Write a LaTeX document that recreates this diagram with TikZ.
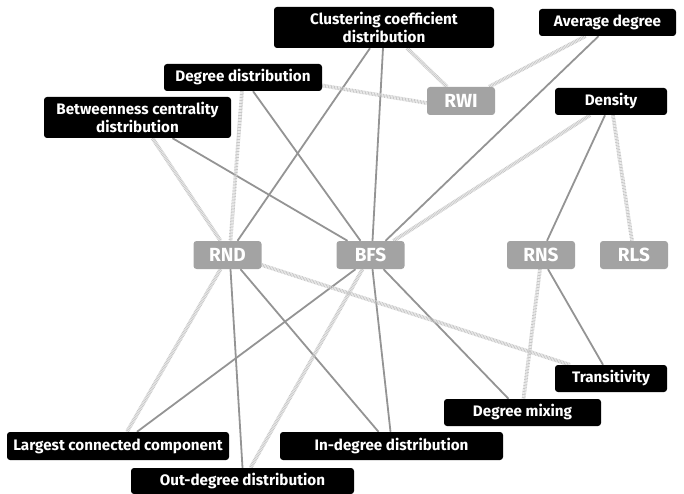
\documentclass[tikz,border=0pt]{standalone}
\usepackage{fontspec}
\setmainfont{Fira Sans}
\usepackage{tikz}
\usetikzlibrary{backgrounds}

\begin{document}
\begin{tikzpicture}[x=1pt, y=-1pt,
	measure/.style={fill=black, text=white, rounded corners=3pt, inner sep=0pt, minimum height=27pt, align=center, font=\bfseries\fontsize{15.2}{18}\selectfont},
	method/.style={fill=black!36, text=white, rounded corners=3pt, inner sep=0pt, minimum width=68pt, minimum height=28pt, font=\bfseries\fontsize{19}{21}\selectfont},
	strong/.style={draw=black!42, line width=1.8pt},
	weak/.style={draw=black!22, line width=3.8pt, dash pattern=on 0.8pt off 0.7pt}]
			\useasboundingbox (0,0) rectangle (684,494);
			% measures
			\node[measure, minimum width=220pt, minimum height=41pt] (clu) at (384,27.5) {Clustering coefficient\\distribution};
			\node[measure, minimum width=137pt] (avg) at (607.5,22.5) {Average degree};
			\node[measure, minimum width=158pt] (deg) at (243,77.5) {Degree distribution};
			\node[measure, minimum width=187pt, minimum height=41pt] (bet) at (137.5,117.5) {Betweenness centrality\\distribution};
			\node[measure, minimum width=112pt] (den) at (611,101.5) {Density};
			\node[measure, minimum width=112pt] (tra) at (611,378.5) {Transitivity};
			\node[measure, minimum width=157pt] (mix) at (522.5,412.5) {Degree mixing};
			\node[measure, minimum width=223pt, minimum height=28pt] (ind) at (391.5,446) {In-degree distribution};
			\node[measure, minimum width=222pt, minimum height=28pt] (lcc) at (118,446) {Largest connected component};
			\node[measure, minimum width=223pt, minimum height=26pt] (outd) at (242.5,481) {Out-degree distribution};
			% sampling methods
			\node[method] (rwi) at (461,101) {RWI};
			\node[method] (rnd) at (227.5,255) {RND};
			\node[method] (bfs) at (370.5,255) {BFS};
			\node[method] (rns) at (541,255) {RNS};
			\node[method] (rls) at (634,255) {RLS};
			\begin{scope}[on background layer]
				% strong links
				\draw[strong] ([xshift=-14pt]clu.south) -- ([xshift=10pt]rnd.north);
				\draw[strong] ([xshift=-1pt]clu.south) -- ([xshift=2pt]bfs.north);
				\draw[strong] ([xshift=10pt]deg.south) -- ([xshift=-10pt]bfs.north);
				\draw[strong] ([xshift=35pt]bet.south) -- ([xshift=-23pt]bfs.north);
				\draw[strong] ([xshift=-9pt]avg.south) -- ([xshift=15pt]bfs.north);
				\draw[strong] ([xshift=-6pt]den.south) -- ([xshift=6pt]rns.north);
				\draw[strong] ([xshift=3pt]rnd.south) -- (outd.north);
				\draw[strong] ([xshift=13pt]rnd.south) -- ([xshift=-13pt]ind.north);
				\draw[strong] ([xshift=-15pt]bfs.south) -- ([xshift=19pt]lcc.north);
				\draw[strong] ([xshift=2pt]bfs.south) -- ([xshift=-1pt]ind.north);
				\draw[strong] ([xshift=13pt]bfs.south) -- ([xshift=-14pt]mix.north);
				\draw[strong] ([xshift=7pt]rns.south) -- ([xshift=-8pt]tra.north);
				% weak links
				\draw[weak] ([xshift=23pt]clu.south) -- ([xshift=-14pt]rwi.north);
				\draw[weak] ([yshift=-8pt]deg.east) -- ([yshift=-2pt]rwi.west);
				\draw[weak] ([xshift=-22pt]avg.south) -- ([xshift=28pt]rwi.north);
				\draw[weak] ([xshift=-1pt]deg.south) -- ([xshift=3pt]rnd.north);
				\draw[weak] ([xshift=15pt]bet.south) -- ([xshift=-7pt]rnd.north);
				\draw[weak] ([xshift=-21pt]den.south) -- ([xshift=23pt]bfs.north);
				\draw[weak] ([xshift=2pt]den.south) -- ([xshift=-2pt]rls.north);
				\draw[weak] ([yshift=-10pt]rnd.east) -- ([xshift=-41pt]tra.north);
				\draw[weak] ([xshift=-7pt]rnd.south) -- ([xshift=9pt]lcc.north);
				\draw[weak] ([xshift=-8pt]bfs.south) -- ([xshift=8pt]outd.north);
				\draw[weak] ([xshift=-1pt]rns.south) -- ([xshift=1pt]mix.north);
			\end{scope}
		\end{tikzpicture}
\end{document}
